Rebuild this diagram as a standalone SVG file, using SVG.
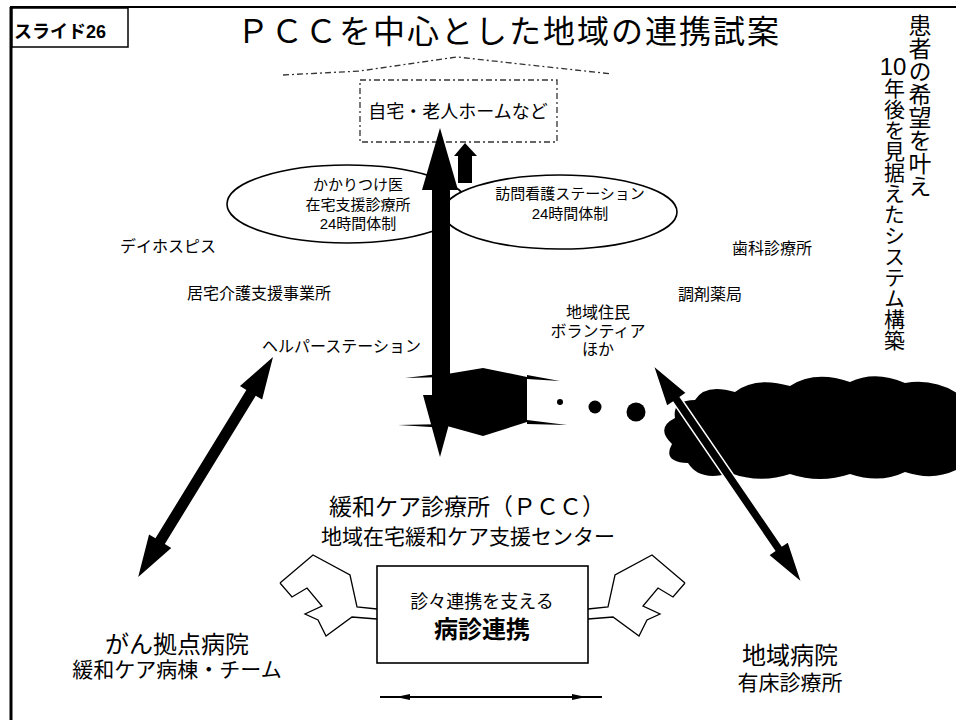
<svg xmlns="http://www.w3.org/2000/svg" width="956" height="720" viewBox="0 0 956 720">
<style>
.t{font-family:'Liberation Sans','Noto Sans CJK JP',sans-serif;fill:#000}
.c{text-anchor:middle}
.v{writing-mode:vertical-rl}
.ov{fill:#fff;stroke:#000;stroke-width:1.6}
.orn{fill:none;stroke:#000;stroke-width:1.3;stroke-linejoin:miter}
</style>
<defs>
<path id="ornament" class="orn" d="M280,583 L313,555 L350,575 L357,607 L377,609 M280,583 L292,597 L307,588 L322,606 L305,614 L318,620 L326,636 L352,617 L377,619"/>
</defs>
<rect width="956" height="720" fill="#fff"/>
<g id="frame">
<line x1="10" y1="7" x2="956" y2="7" stroke="#000" stroke-width="2"/>
<line x1="11" y1="7" x2="11" y2="720" stroke="#000" stroke-width="3"/>
<rect x="12" y="8" width="116" height="39" fill="#fff" stroke="#000" stroke-width="1.5"/>
<text class="t" x="14" y="38" font-size="18" font-weight="bold">スライド26</text>
</g>
<g id="title"><text class="t c" x="509" y="43" font-size="32" letter-spacing="2">ＰＣＣを中心とした地域の連携試案</text></g>
<g id="side-text">
<text class="t v" x="918" y="14" font-size="23">患者の希望を叶え</text>
<text class="t c" x="893" y="75" font-size="24">10</text>
<text class="t v" x="893" y="78" font-size="21">年後を見据えたシステム構築</text>
</g>
<g id="home">
<polyline points="283,75 360,71 457,57 557,68 612,74" fill="none" stroke="#333" stroke-width="1.3" stroke-dasharray="6,3,2,3"/>
<rect x="360" y="80" width="197" height="62" fill="none" stroke="#333" stroke-width="1.3" stroke-dasharray="6,3,2,3"/>
<text class="t c" x="458" y="118" font-size="18">自宅・老人ホームなど</text>
</g>
<g id="kakaritsuke">
<ellipse class="ov" cx="347" cy="204" rx="120" ry="39"/>
<text class="t c" x="358" y="190" font-size="15">かかりつけ医</text>
<text class="t c" x="358" y="210" font-size="15">在宅支援診療所</text>
<text class="t c" x="358" y="229" font-size="15">24時間体制</text>
</g>
<g id="houmon">
<ellipse class="ov" cx="560" cy="212" rx="117" ry="37"/>
<text class="t c" x="570" y="199" font-size="15">訪問看護ステーション</text>
<text class="t c" x="570" y="219" font-size="15">24時間体制</text>
</g>
<g id="labels" class="t" font-size="16">
<text x="120" y="252">デイホスピス</text>
<text x="187" y="299">居宅介護支援事業所</text>
<text x="262" y="352">ヘルパーステーション</text>
<text x="732" y="254">歯科診療所</text>
<text x="678" y="300">調剤薬局</text>
<text class="c" x="598" y="318">地域住民</text>
<text class="c" x="598" y="337">ボランティア</text>
<text class="c" x="598" y="355">ほか</text>
</g>
<g id="cloud">
<path fill="#000" d="M695,400 Q705,383 735,392 Q755,376 790,386 Q815,370 850,382 Q875,370 905,383 Q935,378 960,395 L960,468 Q935,482 905,472 Q880,484 850,474 Q820,484 790,474 Q760,484 730,473 Q700,482 688,463 Q662,462 672,444 Q655,428 675,418 Q672,400 695,400 Z"/>
</g>
<g id="pcc-mark">
<polygon points="447,374 483,368 527,377 527,422 483,436 447,426" fill="#000"/>
<polygon points="405,378 447,373 447,377" fill="#000"/>
<polygon points="527,375 560,381 527,379" fill="#000"/>
<polygon points="398,425 447,424 447,428" fill="#000"/>
<polygon points="527,420 567,425 527,424" fill="#000"/>
<circle cx="560" cy="402" r="3"/>
<circle cx="595" cy="407" r="6.5"/>
<circle cx="636" cy="412" r="9.5"/>
</g>
<g id="connectors">
<polygon points="440,128 458,190 450,190 450,395 457,395 440,457 423,395 432,395 432,190 422,190" fill="#000"/>
<polygon points="465,143 477,156 472,156 472,183 458,183 458,156 454,156" fill="#000"/>
<g transform="translate(273,357) rotate(121.5)"><polygon points="0,0 42,-13 42,-5.5 216,-5.5 216,-13 258,0 216,13 216,5.5 42,5.5 42,13" fill="#000"/></g>
<g transform="translate(653,365) rotate(55.65)"><polygon points="0,0 42,-12 42,-4.5 222,-4.5 222,-12 264,0 222,12 222,4.5 42,4.5 42,12" fill="#000" stroke="#fff" stroke-width="1.5"/></g>
<line x1="380" y1="697" x2="602" y2="697" stroke="#000" stroke-width="2"/>
<polygon points="396,697 410,694 410,700" fill="#000"/>
<polygon points="586,697 572,694 572,700" fill="#000"/>
</g>
<g id="pcc">
<text class="t c" x="467" y="515" font-size="23">緩和ケア診療所（ＰＣＣ）</text>
<text class="t c" x="468" y="544" font-size="21">地域在宅緩和ケア支援センター</text>
</g>
<g id="byoushin">
<use href="#ornament"/>
<use href="#ornament" transform="translate(965,0) scale(-1,1)"/>
<rect x="377" y="566" width="211" height="97" fill="#fff" stroke="#000" stroke-width="1.6"/>
<text class="t c" x="482" y="608" font-size="18">診々連携を支える</text>
<text class="t c" x="482" y="638" font-size="24" font-weight="bold">病診連携</text>
</g>
<g id="gan">
<text class="t c" x="177" y="653" font-size="24">がん拠点病院</text>
<text class="t c" x="177" y="677" font-size="21">緩和ケア病棟・チーム</text>
</g>
<g id="chiiki">
<text class="t c" x="790" y="664" font-size="24">地域病院</text>
<text class="t c" x="790" y="690" font-size="21">有床診療所</text>
</g>
</svg>
